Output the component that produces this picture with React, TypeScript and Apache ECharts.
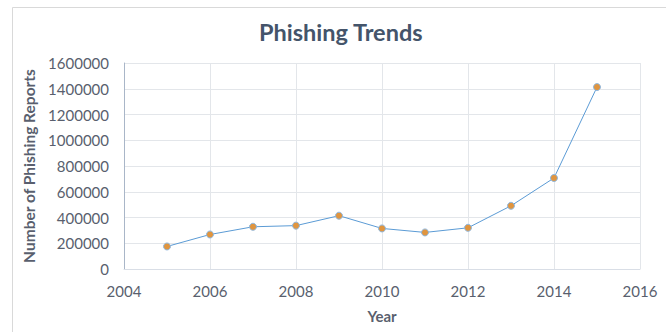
import React, { useEffect, useRef } from "react";
import * as echarts from "echarts";

const years = [2005, 2006, 2007, 2008, 2009, 2010, 2011, 2012, 2013, 2014, 2015];
const reports = [175000, 268000, 328000, 337000, 414000, 315000, 284000, 320000, 491000, 707000, 1413000];
const titleText = "Phishing Trends";
const xAxisName = "Year";
const yAxisName = "Number of Phishing Reports";

const FONT = "Lato, 'Open Sans', sans-serif";
const TEXT = "#595f6e";
const TITLE = "#44546a";

export default function App() {
  const ref = useRef<HTMLDivElement>(null);
  useEffect(() => {
    if (!ref.current) return;
    const chart = echarts.init(ref.current, undefined, { renderer: "svg" });
    chart.setOption({
      animation: false,
      backgroundColor: "#ffffff",
      graphic: [
        {
          type: "rect",
          shape: { x: 12.5, y: 7.5, width: 700, height: 400 },
          style: { fill: "none", stroke: "#d9d9d9", lineWidth: 1 },
          silent: true,
          z: -1,
        },
      ],
      title: {
        text: titleText,
        left: 254,
        top: 15,
        textStyle: { fontFamily: FONT, fontWeight: "bold", fontSize: 23.5, color: TITLE },
      },
      grid: { left: 124, top: 63, right: 26, bottom: 63, containLabel: false },
      xAxis: {
        type: "value",
        min: 2004,
        max: 2016,
        interval: 2,
        name: xAxisName,
        nameLocation: "middle",
        nameGap: 39,
        nameTextStyle: { fontFamily: FONT, fontWeight: "bold", fontSize: 15, color: TEXT },
        axisLine: { show: true, lineStyle: { color: "#d9dee6", width: 1 } },
        axisTick: { show: false },
        splitLine: { show: true, lineStyle: { color: "#e3e6ea", width: 1 } },
        axisLabel: {
          fontFamily: FONT,
          fontSize: 15,
          color: TEXT,
          margin: 14,
          formatter: (v: number) => String(v),
        },
      },
      yAxis: {
        type: "value",
        min: 0,
        max: 1600000,
        interval: 200000,
        name: yAxisName,
        nameLocation: "middle",
        nameGap: 81,
        nameTextStyle: { fontFamily: FONT, fontWeight: "bold", fontSize: 15.5, color: TEXT },
        axisLine: { show: true, lineStyle: { color: "#a9b6c8", width: 1 } },
        axisTick: { show: false },
        splitLine: { show: true, lineStyle: { color: "#e3e6ea", width: 1 } },
        axisLabel: {
          fontFamily: FONT,
          fontSize: 15,
          color: TEXT,
          margin: 15,
          formatter: (v: number) => String(v),
        },
      },
      series: [
        {
          type: "line",
          data: years.map((y, i) => [y, reports[i]]),
          symbol: "circle",
          symbolSize: 7,
          lineStyle: { color: "#5b9bd5", width: 1 },
          itemStyle: { color: "#e0953f", borderColor: "#8fb8e0", borderWidth: 1 },
        },
      ],
    });
    return () => chart.dispose();
  }, []);
  return (
    <div
      ref={ref}
      style={{ position: "absolute", left: 0, top: 0, width: 666, height: 332 }}
    />
  );
}
